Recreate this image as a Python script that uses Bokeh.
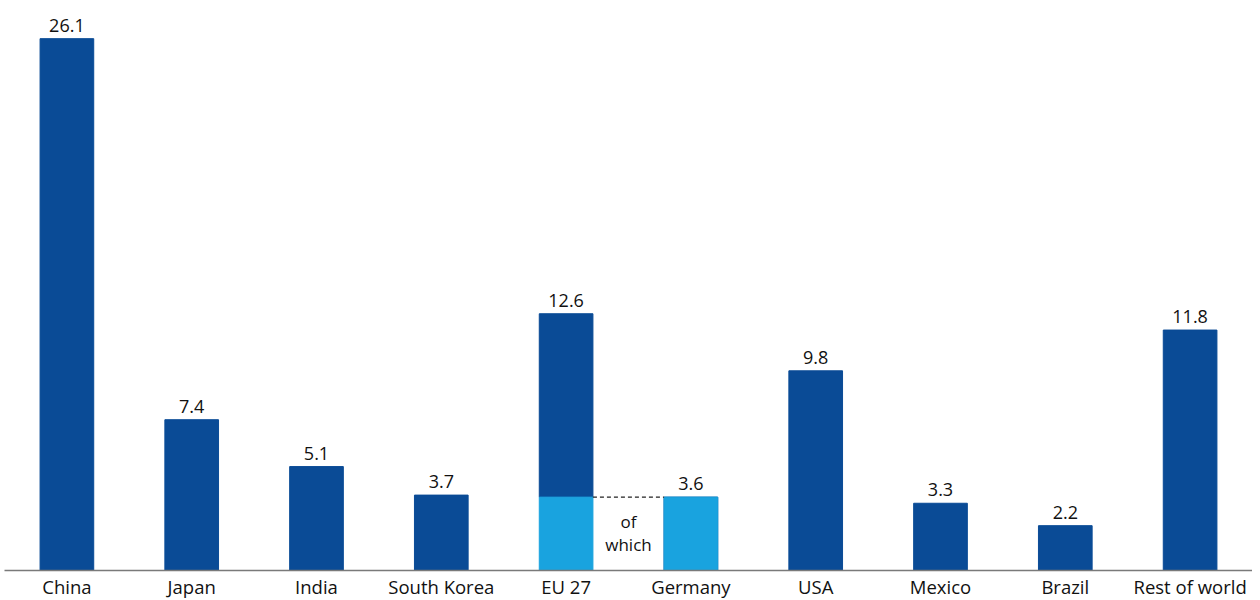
from bokeh.plotting import figure
from bokeh.models import ColumnDataSource, FactorRange
from bokeh.transform import dodge
from bokeh.core.properties import value
from bokeh.embed import file_html
from bokeh.resources import INLINE

countries = ["China", "Japan", "India", "South Korea", "EU 27", "Germany",
             "USA", "Mexico", "Brazil", "Rest of world"]
totals = [26.1, 7.4, 5.1, 3.7, 12.6, 3.6, 9.8, 3.3, 2.2, 11.8]
labels = ["26.1", "7.4", "5.1", "3.7", "12.6", "3.6", "9.8", "3.3", "2.2", "11.8"]
germany_share_of_eu = 3.6

DARK = "#0a4b96"
LIGHT = "#19a3df"
FONT = "Open Sans"

# light portion (Germany itself, and Germany's share inside EU 27)
light_top = [germany_share_of_eu if c in ("EU 27", "Germany") else 0 for c in countries]
dark_bottom = light_top
dark_top = [t if c != "Germany" else 0 for c, t in zip(countries, totals)]

src = ColumnDataSource(dict(x=countries, total=totals, label=labels,
                            light_top=light_top, dark_bottom=dark_bottom,
                            dark_top=dark_top))

p = figure(x_range=FactorRange(*countries, range_padding=0), y_range=(0, 27.58),
           frame_width=1248, frame_height=562, output_backend="svg",
           toolbar_location=None, min_border=0, min_border_left=4,
           min_border_top=8)

p.vbar(x="x", bottom="dark_bottom", top="dark_top", width=0.43, color=DARK, source=src)
p.vbar(x="x", bottom=0, top="light_top", width=0.43, color=LIGHT, source=src)

p.text(x="x", y="total", text="label", source=src, text_align="center",
       text_baseline="bottom", y_offset=-7, text_font=value(FONT),
       text_font_size="18px", text_color="#111111")

link = ColumnDataSource(dict(a=["EU 27"], b=["Germany"], y=[germany_share_of_eu]))
p.segment(x0=dodge("a", 0.215, range=p.x_range), x1=dodge("b", -0.215, range=p.x_range),
          y0="y", y1="y", source=link, line_color="#222222", line_dash="4 3",
          line_width=1.2)
p.text(x=dodge("a", 0.5, range=p.x_range), y="y", text=value("of\nwhich"),
       source=link, text_align="center", text_baseline="top", y_offset=13,
       text_font=value(FONT), text_font_size="17px", text_color="#111111",
       text_line_height=1.0)

p.yaxis.visible = False
p.xgrid.visible = False
p.ygrid.visible = False
p.outline_line_color = None
p.xaxis.axis_line_color = "#7a7a7a"
p.xaxis.axis_line_width = 1.5
p.xaxis.major_tick_line_color = None
p.xaxis.major_tick_out = 0
p.xaxis.major_tick_in = 0
p.xaxis.minor_tick_line_color = None
p.xaxis.major_label_text_font = FONT
p.xaxis.major_label_text_font_size = "18.5px"
p.xaxis.major_label_text_color = "#111111"
p.xaxis.major_label_standoff = 3

open("out.html", "w").write(file_html(p, INLINE))
